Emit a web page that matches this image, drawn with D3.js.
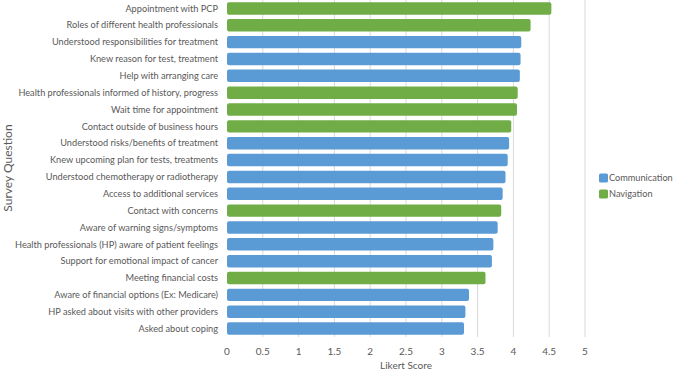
<!DOCTYPE html>
<html>
<head>
<meta charset="utf-8">
<script src="https://cdn.jsdelivr.net/npm/d3@7"></script>
<style>
  body { margin: 0; background: #fff; }
  text { font-family: Lato, "Liberation Sans", sans-serif; fill: #595959; }
</style>
</head>
<body>
<script>
const questions = [
  'Appointment with PCP',
  'Roles of different health professionals',
  'Understood responsibilities for treatment',
  'Knew reason for test, treatment',
  'Help with arranging care',
  'Health professionals informed of history, progress',
  'Wait time for appointment',
  'Contact outside of business hours',
  'Understood risks/benefits of treatment',
  'Knew upcoming plan for tests, treatments',
  'Understood chemotherapy or radiotherapy',
  'Access to additional services',
  'Contact with concerns',
  'Aware of warning signs/symptoms',
  'Health professionals (HP) aware of patient feelings',
  'Support for emotional impact of cancer',
  'Meeting financial costs',
  'Aware of financial options (Ex: Medicare)',
  'HP asked about visits with other providers',
  'Asked about coping'
];
const scores = [4.53, 4.24, 4.11, 4.10, 4.09, 4.06, 4.05, 3.97, 3.94, 3.92,
                3.89, 3.85, 3.83, 3.78, 3.72, 3.70, 3.61, 3.38, 3.33, 3.31];
const groups = ['Navigation', 'Navigation', 'Communication', 'Communication', 'Communication',
                'Navigation', 'Navigation', 'Navigation', 'Communication', 'Communication',
                'Communication', 'Communication', 'Navigation', 'Communication', 'Communication',
                'Communication', 'Navigation', 'Communication', 'Communication', 'Communication'];
const seriesNames = ['Communication', 'Navigation'];
const xTicks = [0, 0.5, 1, 1.5, 2, 2.5, 3, 3.5, 4, 4.5, 5];

const data = questions.map((q, i) => ({ q, v: scores[i], g: groups[i] }));

const W = 677, H = 371;
const svg = d3.select('body').append('svg').attr('width', W).attr('height', H);

const x = d3.scaleLinear().domain([0, 5]).range([227, 585]);
const y = d3.scaleBand().domain(questions).range([0, 337]).paddingInner(0.26).paddingOuter(0.13);
const color = d3.scaleOrdinal().domain(seriesNames).range(['#5B9BD5', '#70AD47']);

// gridlines
svg.append('g').selectAll('line')
  .data(xTicks.slice(1))
  .enter().append('line')
  .attr('x1', d => x(d)).attr('x2', d => x(d))
  .attr('y1', 0).attr('y2', 337)
  .attr('stroke', '#d9d9d9').attr('stroke-width', 1);

// bars
svg.append('g').selectAll('rect')
  .data(data)
  .enter().append('rect')
  .attr('x', x(0))
  .attr('y', d => y(d.q))
  .attr('width', d => x(d.v) - x(0))
  .attr('height', y.bandwidth())
  .attr('rx', 2)
  .attr('fill', d => color(d.g));

// category labels
svg.append('g').selectAll('text')
  .data(questions)
  .enter().append('text')
  .attr('x', 218)
  .attr('y', d => y(d) + y.bandwidth() / 2)
  .attr('dy', '0.35em')
  .attr('text-anchor', 'end')
  .style('font-size', '9.2px')
  .text(d => d);

// x tick labels
svg.append('g').selectAll('text')
  .data(xTicks)
  .enter().append('text')
  .attr('x', d => x(d))
  .attr('y', 355)
  .attr('text-anchor', 'middle')
  .style('font-size', '10px')
  .text(d => d);

svg.append('text')
  .attr('x', x(2.5)).attr('y', 369)
  .attr('text-anchor', 'middle')
  .style('font-size', '10px')
  .text('Likert Score');

svg.append('text')
  .attr('transform', 'translate(12,168) rotate(-90)')
  .attr('text-anchor', 'middle')
  .style('font-size', '12px')
  .text('Survey Question');

// legend
const legend = svg.append('g').selectAll('g')
  .data(seriesNames)
  .enter().append('g')
  .attr('transform', (d, i) => `translate(599, ${178 + i * 16})`);
legend.append('rect')
  .attr('x', 0).attr('y', -4.5)
  .attr('width', 9).attr('height', 9).attr('rx', 1.5)
  .attr('fill', d => color(d));
legend.append('text')
  .attr('x', 10).attr('dy', '0.35em')
  .style('font-size', '9.2px')
  .text(d => d);
</script>
</body>
</html>
